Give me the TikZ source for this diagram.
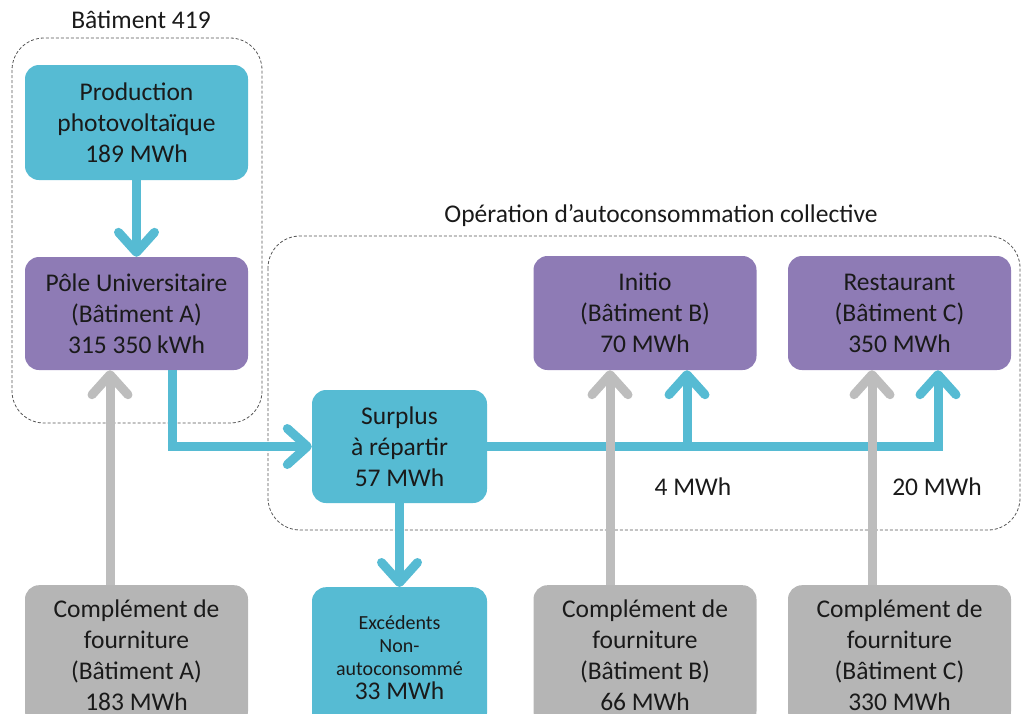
\documentclass[tikz,border=0pt]{standalone}
\usepackage{fontspec}
\setmainfont{Carlito}
\usetikzlibrary{arrows.meta}
\definecolor{cyanbox}{HTML}{56BBD3}
\definecolor{purplebox}{HTML}{8E7BB5}
\definecolor{graybox}{HTML}{B5B5B5}
\definecolor{grayarrow}{HTML}{BDBDBD}
\definecolor{txt}{HTML}{1A1A1A}
\definecolor{dashcol}{HTML}{555555}
\tikzset{
  box/.style={rounded corners=14pt, minimum width=223pt, minimum height=114pt, inner sep=0pt,
    align=center, text=txt, font=\fontsize{25.5}{31}\selectfont},
  cbox/.style={box, fill=cyanbox},
  pbox/.style={box, fill=purplebox},
  gbox/.style={box, fill=graybox, minimum height=140pt},
  cflow/.style={draw=cyanbox, line width=9pt, -{Straight Barb[length=20pt,width=36pt,round]}},
  gflow/.style={draw=grayarrow, line width=9pt, -{Straight Barb[length=20pt,width=36pt,round]}},
  grp/.style={draw=dashcol, line width=0.8pt, dash pattern=on 3pt off 2pt, rounded corners=32pt},
  lbl/.style={text=txt, font=\fontsize{25.5}{31}\selectfont, inner sep=0pt},
}
\begin{document}
\begin{tikzpicture}[x=1pt,y=-1pt]
\useasboundingbox (0,0) rectangle (1022,713);
\clip (0,0) rectangle (1022,713);
% groups
\draw[grp] (12,38) rectangle (262,423);
\draw[grp] (268,236) rectangle (1020,530);
\node[lbl] (l419) at (141,20) {Bâtiment 419};
\node[lbl] (lcoll) at (661,216) {Opération d’autoconsommation collective};
% boxes
\node[cbox, minimum height=115pt] (prod) at (136.5,122.5) {Production\\photovoltaïque\\189 MWh};
\node[pbox, minimum height=113pt] (pole) at (136.5,313.5) {Pôle Universitaire\\(Bâtiment A)\\315 350 kWh};
\node[cbox, minimum width=175pt, minimum height=113pt] (surp) at (399.5,446.5) {Surplus\\à répartir\\57 MWh};
\node[cbox, minimum width=175pt, minimum height=140pt, anchor=north, font=\fontsize{20}{23}\selectfont] (exc) at (399.5,587)
  {Excédents\\Non-\\autoconsommé\\[1pt]\fontsize{25.5}{31}\selectfont 33 MWh};
\node[pbox] (init) at (645,313) {Initio\\(Bâtiment B)\\70 MWh};
\node[pbox] (rest) at (899.5,313) {Restaurant\\(Bâtiment C)\\350 MWh};
\node[gbox, anchor=north] (cA) at (136.5,585) {Complément de\\fourniture\\(Bâtiment A)\\183 MWh};
\node[gbox, anchor=north] (cB) at (645,585) {Complément de\\fourniture\\(Bâtiment B)\\66 MWh};
\node[gbox, anchor=north] (cC) at (899.5,585) {Complément de\\fourniture\\(Bâtiment C)\\330 MWh};
% flows
\draw[cflow] (prod.south) -- (pole.north);
\draw[gflow] ([xshift=-26.5pt]cA.north) -- ([xshift=-26.5pt]pole.south);
\draw[cflow] ([xshift=35.5pt]pole.south) |- (surp.west);
\draw[cflow] (surp.east) -| ([xshift=38.5pt]rest.south);
\coordinate (br) at (687,446.5);
\draw[cflow] (br) -- ([xshift=42pt]init.south);
\draw[cflow] (surp.south) -- (exc.north);
\draw[gflow] ([xshift=-35pt]cB.north) -- ([xshift=-35pt]init.south);
\draw[gflow] ([xshift=-27.5pt]cC.north) -- ([xshift=-27.5pt]rest.south);
\node[lbl] (m4) at (693,487) {4 MWh};
\node[lbl] (m20) at (937,487) {20 MWh};
\end{tikzpicture}
\end{document}
